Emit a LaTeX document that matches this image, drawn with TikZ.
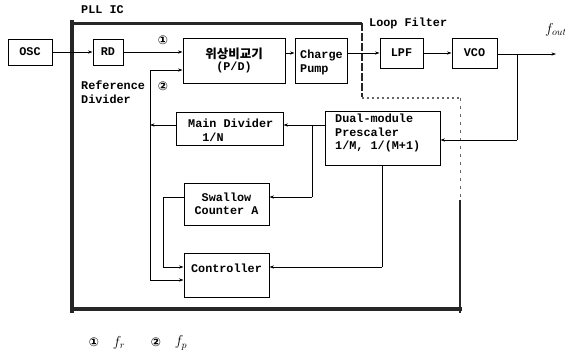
\documentclass[tikz,border=0pt]{standalone}
\usepackage{fontspec}
\setmainfont{Liberation Mono}
\newfontfamily\cjk{Noto Sans CJK KR}
\newfontfamily\dvs{DejaVu Sans}
\usetikzlibrary{arrows.meta}
\begin{document}
\begin{tikzpicture}[x=1pt,y=-1pt,
 box/.style={draw, line width=1pt, inner sep=0pt, font=\fontsize{11.8}{13.5}\selectfont\bfseries, align=center},
 lbl/.style={inner sep=0pt, font=\fontsize{11.8}{13.5}\selectfont\bfseries, align=left},
 arr/.style={line width=0.7pt, -{Stealth[length=4.5pt,width=3.2pt]}},
 ln/.style={line width=0.7pt},
 band/.style={line width=4pt, black!85},
 circ/.style={inner sep=0pt, font=\dvs\bfseries\fontsize{12}{12}\selectfont},
 fl/.style={inner sep=0pt, font=\fontsize{14}{14}\selectfont}]
\useasboundingbox (0,0) rectangle (565,356);

% IC border
\draw[band, line width=3.5pt] (72,20) -- (72,313);
\draw[band, line width=3pt] (70,23) -- (362,23);
\draw[band, line width=2.5pt, dash pattern=on 8pt off 2pt] (362,23) -- (362,97);
\draw[black!60, line width=1.2pt, dash pattern=on 2pt off 3pt] (362,98) -- (460,98);
\draw[black!60, line width=1pt, dash pattern=on 3pt off 5pt] (460,98) -- (460,200);
\draw[band, line width=2.5pt] (460,200) -- (460,313);
\draw[band, line width=4.5pt] (70,309) -- (462,309);

% labels
\node[lbl, anchor=west] (pllic) at (81,10) {PLL IC};
\node[lbl, anchor=west] (loopf) at (369,23) {Loop Filter};
\node[lbl, anchor=west] (refdiv) at (81,92) {Reference\\Divider};
\node[fl, anchor=west] (fout) at (545,30) {$f_{out}$};
\node[circ] (c1) at (163,40) {①};
\node[circ] (c2) at (163,86) {②};
\node[circ] (b1) at (94,342) {①};
\node[fl] (bf1) at (119,343) {$f_r$};
\node[circ] (b2) at (156,342) {②};
\node[fl] (bf2) at (181,343) {$f_p$};

% boxes
\node[box, minimum width=44pt, minimum height=26pt] (osc) at (30,52) {OSC};
\node[box, minimum width=30pt, minimum height=26pt] (rd) at (108,52) {RD};
\node[box, minimum width=102pt, minimum height=45pt] (pd) at (234,60.5) {{\cjk\fontsize{12.5}{14}\selectfont 위상비교기}\\[-1pt](P/D)};
\node[box, minimum width=52pt, minimum height=45pt] (cp) at (321,60.5) {};
\node[lbl, anchor=north west] (cpt) at (300,50) {Charge\\Pump};
\node[box, minimum width=43pt, minimum height=30pt] (lpf) at (401.5,53) {LPF};
\node[box, minimum width=45pt, minimum height=30pt] (vco) at (474.5,53) {VCO};
\node[box, minimum width=107pt, minimum height=33pt] (md) at (229.5,128.5) {};
\node[lbl, anchor=north west] (mdt) at (188,119) {Main Divider\\\ \ 1/N};
\node[box, minimum width=115pt, minimum height=54pt] (ps) at (382.5,138) {};
\node[lbl, anchor=north west] (pst) at (335,114) {Dual-module\\Prescaler\\1/M, 1/(M+1)};
\node[box, minimum width=85pt, minimum height=42pt] (sc) at (226.5,204) {Swallow\\Counter A};
\node[box, minimum width=85pt, minimum height=44pt] (ct) at (226.5,275) {};
\node[lbl] (ctt) at (226.5,268) {Controller};

% junctions
\coordinate (j2) at (150,70);
\coordinate (jm) at (150,125);
\coordinate (jb) at (150,280);
\coordinate (tap) at (517,54);
\coordinate (tapd) at (517,140);
\coordinate (br) at (312,125);
\coordinate (brd) at (312,197);
\coordinate (cx) at (382,267);
\coordinate (sl) at (163,197);
\coordinate (sld) at (163,267);
\coordinate (outend) at (556,54);

% connectors
\draw[arr] (osc.east) -- (rd.west);
\draw[arr] (rd.east) -- (rd.east -| pd.west);
\draw[arr] (j2) -- (j2 -| pd.west);
\draw[ln] (j2) -- (jb);
\draw[arr] (jb) -- (jb -| ct.west);
\draw[arr] (jm -| md.west) -- (jm);
\draw[arr] (pd.east |- 0,53) -- (cp.west |- 0,53);
\draw[arr] (cp.east |- 0,53) -- (lpf.west |- 0,53);
\draw[arr] (lpf.east) -- (vco.west);
\draw[arr] (vco.east |- tap) -- (outend);
\draw[ln] (tap) -- (tapd);
\draw[arr] (tapd) -- (tapd -| ps.east);
\draw[arr] (br -| ps.west) -- (br -| md.east);
\draw[ln] (br) -- (brd);
\draw[arr] (brd) -- (brd -| sc.east);
\draw[ln] (ps.south -| cx) -- (cx);
\draw[arr] (cx) -- (cx -| ct.east);
\draw[ln] (sl -| sc.west) -- (sl) -- (sld);
\draw[arr] (sld) -- (sld -| ct.west);
\end{tikzpicture}
\end{document}
